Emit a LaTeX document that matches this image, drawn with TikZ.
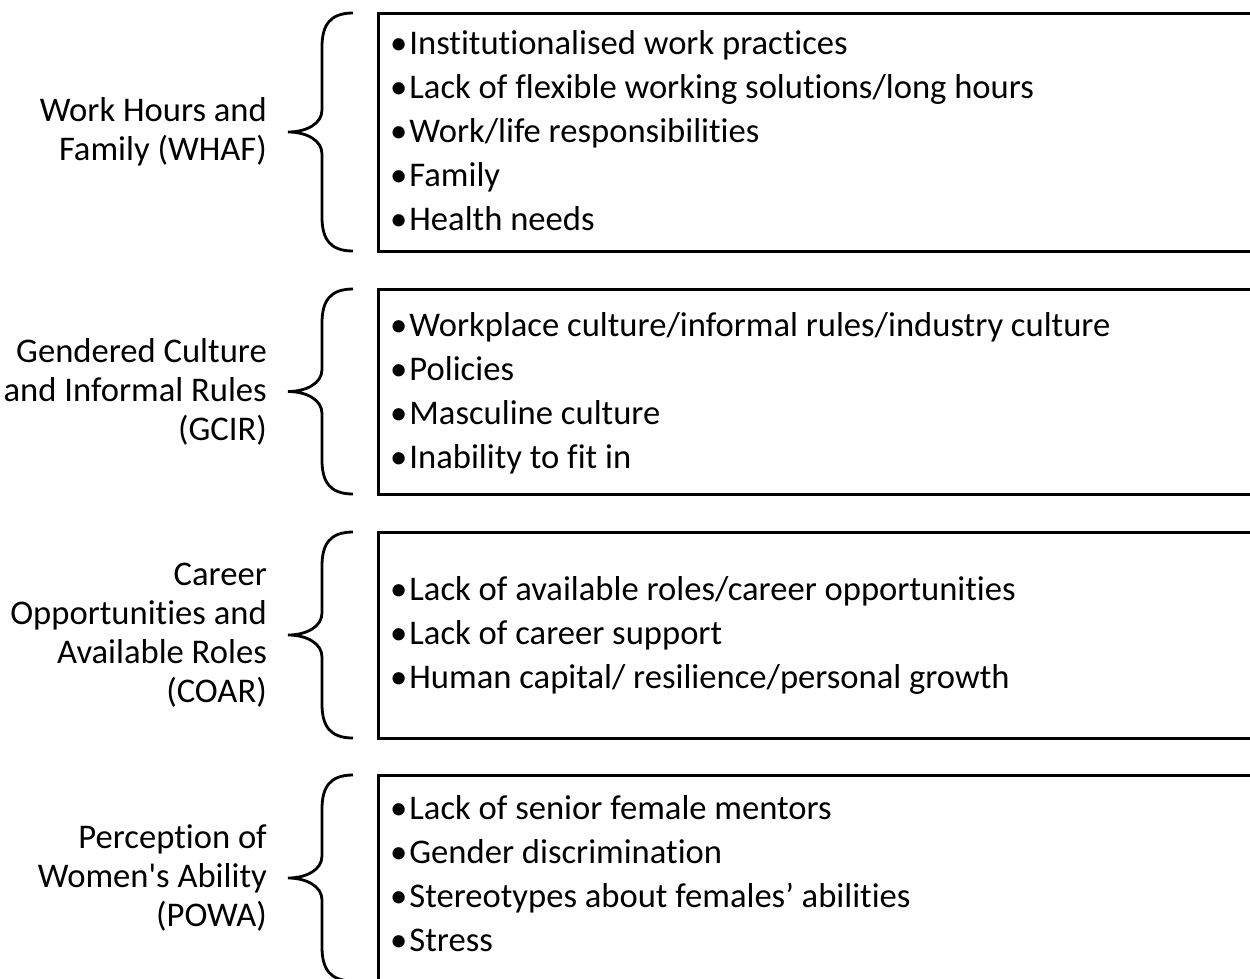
\documentclass[tikz,border=0pt]{standalone}
\usepackage{fontspec}
\newfontfamily\diagramFont[Ligatures=NoCommon]{Carlito}
\usetikzlibrary{positioning}
\tikzstyle{sheet} = [x = 1pt, y = -1pt]
\tikzstyle{groupFrame} = [draw=black, line width=3pt]
\tikzstyle{groupBrace} = [draw=black, line width=2.8pt]
\newcommand{\itemFont}{\diagramFont\fontsize{34.6}{44}\selectfont}
\newcommand{\labelFont}{\diagramFont\fontsize{34.6}{39}\selectfont}
\tikzstyle{itemText} = [anchor=base west, inner sep=0pt, font=\itemFont]
\tikzstyle{groupText} = [align=right, inner sep=0pt, font=\labelFont]
\newcommand{\frameLeft}{378}
\newcommand{\frameRight}{1262}
\newcommand{\groupFrameBox}[3]{\draw [groupFrame] (\frameLeft, #2) rectangle (\frameRight, #3) coordinate (#1Corner);}
\newcommand{\leftBrace}[3]{
  \pgfmathsetmacro{\braceMid}{(#2 + #3) / 2}
  \coordinate (#1Tip) at (288, \braceMid);
  \draw [groupBrace] (353, #2) .. controls (330, #2) and (322, #2 + 12) .. (322, #2 + 34)
    -- (322, \braceMid - 22) .. controls (322, \braceMid - 8) and (306, \braceMid) .. (#1Tip)
    .. controls (306, \braceMid) and (322, \braceMid + 8) .. (322, \braceMid + 22)
    -- (322, #3 - 34) .. controls (322, #3 - 12) and (330, #3) .. (353, #3);
}
\newcommand{\groupItems}[3]{
  \foreach \itemLabel [count=\itemIndex] in {#3} {
    \node [itemText] (#1Item\itemIndex) at (390, #2 + 44 * \itemIndex - 44) {•\kern2pt\itemLabel};
  }
}
\begin{document}
\begin{tikzpicture}[sheet]
  \useasboundingbox (0,0) rectangle (1250,978);

  \groupFrameBox{whaf}{13}{251}
  \leftBrace{whaf}{13}{251}
  \node [groupText, left = 21pt of whafTip] (whafLabel) {Work Hours and\\Family (WHAF)};
  \groupItems{whaf}{54}{Institutionalised work practices, Lack of flexible working solutions/long hours,
    Work/life responsibilities, Family, Health needs}

  \groupFrameBox{gcir}{289}{494}
  \leftBrace{gcir}{289}{494}
  \node [groupText, left = 21pt of gcirTip] (gcirLabel) {Gendered Culture\\and Informal Rules\\(GCIR)};
  \groupItems{gcir}{336}{Workplace culture/informal rules/industry culture, Policies,
    Masculine culture, Inability to fit in}

  \groupFrameBox{coar}{532}{738}
  \leftBrace{coar}{532}{738}
  \node [groupText, left = 21pt of coarTip] (coarLabel) {Career\\Opportunities and\\Available Roles\\(COAR)};
  \groupItems{coar}{600}{Lack of available roles/career opportunities, Lack of career support,
    Human capital/ resilience/personal growth}

  \groupFrameBox{powa}{775}{981}
  \leftBrace{powa}{775}{981}
  \node [groupText, left = 21pt of powaTip] (powaLabel) {Perception of\\Women's Ability\\(POWA)};
  \groupItems{powa}{819}{Lack of senior female mentors, Gender discrimination,
    Stereotypes about females’ abilities, Stress}
\end{tikzpicture}
\end{document}
